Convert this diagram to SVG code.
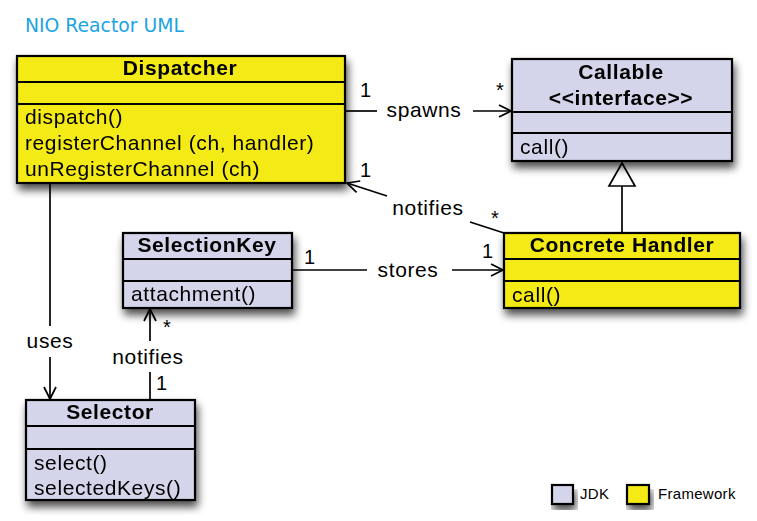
<svg xmlns="http://www.w3.org/2000/svg" width="757" height="521" viewBox="0 0 757 521">
<style>
.jdk{fill:#d4d4ea;stroke:#000;stroke-width:2.2}
.fw{fill:#f4ea12;stroke:#000;stroke-width:2.2}
.sep{stroke:#000;stroke-width:2}
.t{font-family:"Liberation Sans",Arial,sans-serif;font-size:21px;letter-spacing:0.6px;fill:#000}
.b{font-weight:bold;text-anchor:middle}
.lbl{font-family:"Liberation Sans",Arial,sans-serif;font-size:21px;letter-spacing:0.6px;fill:#000;text-anchor:middle}
.m{font-family:"Liberation Sans",Arial,sans-serif;font-size:20px;fill:#000}
.ln{fill:none;stroke:#000;stroke-width:1.7}
.leg{font-family:"Liberation Sans",Arial,sans-serif;font-size:15px;letter-spacing:0.3px;fill:#000}
</style>
<defs>
<filter id="sh" x="-10%" y="-10%" width="130%" height="140%">
<feGaussianBlur in="SourceAlpha" stdDeviation="4"/>
<feOffset dx="2" dy="6" result="o"/>
<feComponentTransfer><feFuncA type="linear" slope="0.7"/></feComponentTransfer>
<feMerge><feMergeNode/><feMergeNode in="SourceGraphic"/></feMerge>
</filter>
<marker id="open" markerWidth="16" markerHeight="14" refX="13" refY="7" orient="auto" markerUnits="userSpaceOnUse">
<path d="M1,1 L13,7 L1,13" fill="none" stroke="#000" stroke-width="1.7"/>
</marker>
</defs>
<rect width="757" height="521" fill="#fff"/>
<text x="25" y="32" font-family="DejaVu Sans,Verdana,sans-serif" font-size="18.8" fill="#1ba3e3">NIO Reactor UML</text>

<g id="connectors">
<line class="ln" x1="345" y1="111" x2="377" y2="111"/>
<text class="lbl" x="424" y="117">spawns</text>
<line class="ln" x1="473" y1="111" x2="511" y2="111" marker-end="url(#open)"/>
<text class="m" x="360" y="97">1</text>
<text class="m" x="496" y="97">*</text>

<line class="ln" x1="504" y1="233" x2="470" y2="222"/>
<text class="lbl" x="428" y="215">notifies</text>
<line class="ln" x1="387" y1="196" x2="347" y2="183" marker-end="url(#open)"/>
<text class="m" x="360" y="177">1</text>
<text class="m" x="491" y="225">*</text>

<line class="ln" x1="292" y1="270" x2="367" y2="270"/>
<text class="lbl" x="408" y="277">stores</text>
<line class="ln" x1="452" y1="270" x2="503" y2="270" marker-end="url(#open)"/>
<text class="m" x="304" y="264">1</text>
<text class="m" x="482" y="258">1</text>

<line class="ln" x1="50" y1="183" x2="50" y2="326"/>
<text class="lbl" x="50" y="348">uses</text>
<line class="ln" x1="50" y1="357" x2="50" y2="399" marker-end="url(#open)"/>

<line class="ln" x1="150" y1="341" x2="150" y2="309" marker-end="url(#open)"/>
<text class="lbl" x="148" y="364">notifies</text>
<line class="ln" x1="150" y1="372" x2="150" y2="400"/>
<text class="m" x="163" y="334">*</text>
<text class="m" x="156" y="390">1</text>

<line class="ln" x1="622" y1="186" x2="622" y2="233"/>
<path d="M622,163 L635,186 L609,186 Z" fill="#fff" stroke="#000" stroke-width="1.7"/>
</g>

<g id="dispatcher" filter="url(#sh)">
<rect class="fw" x="17" y="56" width="328" height="127"/>
<line class="sep" x1="17" y1="82" x2="345" y2="82"/>
<line class="sep" x1="17" y1="104" x2="345" y2="104"/>
<text class="t b" x="180" y="75">Dispatcher</text>
<text class="t" x="25" y="124">dispatch()</text>
<text class="t" x="25" y="150">registerChannel (ch, handler)</text>
<text class="t" x="25" y="176">unRegisterChannel (ch)</text>
</g>

<g id="callable" filter="url(#sh)">
<rect class="jdk" x="512" y="59" width="220" height="102"/>
<line class="sep" x1="512" y1="112" x2="732" y2="112"/>
<line class="sep" x1="512" y1="133" x2="732" y2="133"/>
<text class="t b" x="621" y="79">Callable</text>
<text class="t b" x="621" y="105">&lt;&lt;interface&gt;&gt;</text>
<text class="t" x="520" y="154">call()</text>
</g>

<g id="concrete-handler" filter="url(#sh)">
<rect class="fw" x="504" y="233" width="236" height="75"/>
<line class="sep" x1="504" y1="259" x2="740" y2="259"/>
<line class="sep" x1="504" y1="281" x2="740" y2="281"/>
<text class="t b" x="622" y="252">Concrete Handler</text>
<text class="t" x="512" y="302">call()</text>
</g>

<g id="selection-key" filter="url(#sh)">
<rect class="jdk" x="123" y="233" width="169" height="75"/>
<line class="sep" x1="123" y1="259" x2="292" y2="259"/>
<line class="sep" x1="123" y1="281" x2="292" y2="281"/>
<text class="t b" x="207" y="252">SelectionKey</text>
<text class="t" x="131" y="301">attachment()</text>
</g>

<g id="selector" filter="url(#sh)">
<rect class="jdk" x="26" y="400" width="169" height="100"/>
<line class="sep" x1="26" y1="426" x2="195" y2="426"/>
<line class="sep" x1="26" y1="449" x2="195" y2="449"/>
<text class="t b" x="110" y="419">Selector</text>
<text class="t" x="34" y="470">select()</text>
<text class="t" x="34" y="495">selectedKeys()</text>
</g>

<g id="legend">
<rect class="jdk" x="552" y="485" width="21" height="19" filter="url(#sh)"/>
<text class="leg" x="580" y="499">JDK</text>
<rect class="fw" x="627" y="485" width="22" height="19" filter="url(#sh)"/>
<text class="leg" x="658" y="499">Framework</text>
</g>
</svg>
